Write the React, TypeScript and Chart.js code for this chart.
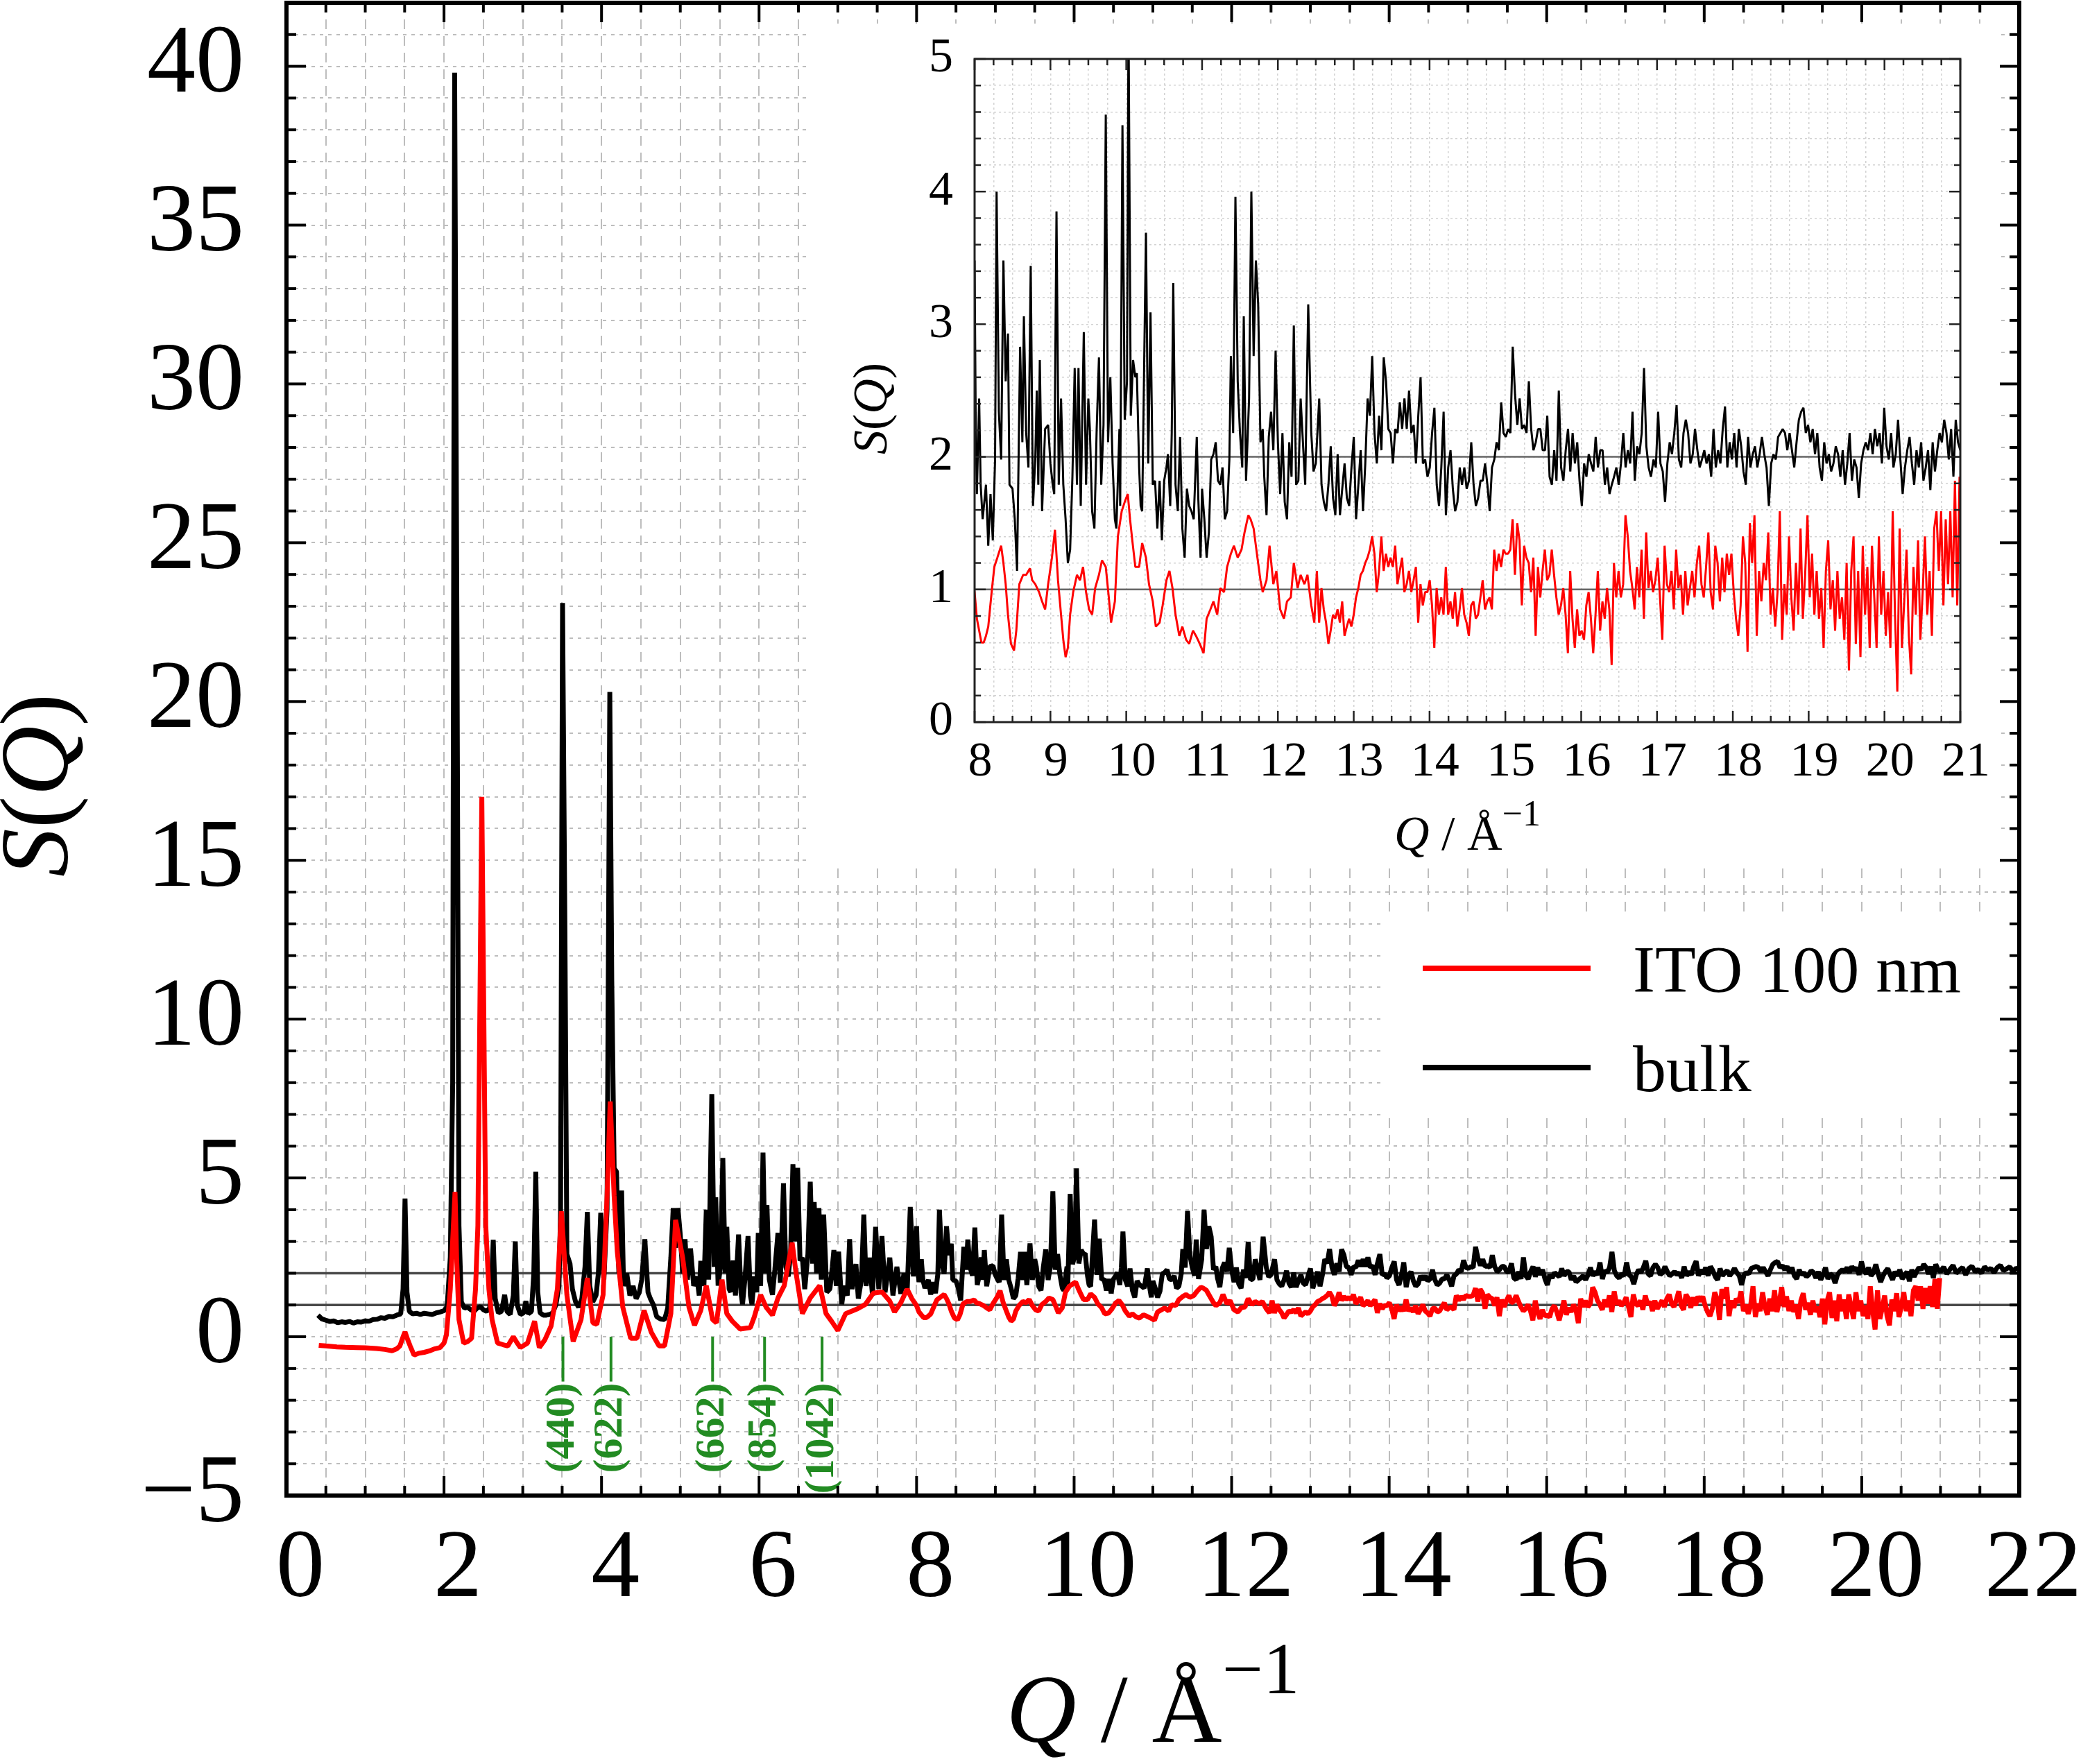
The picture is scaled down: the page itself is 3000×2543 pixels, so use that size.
import { useEffect, useRef } from "react";
import { Chart, registerables } from "chart.js";

Chart.register(...registerables);

// ---------------- data ----------------
// bulk, low Q (peaked part), [Q, S(Q)]
const bulkLowQ: [number, number][] = [
  [0.40,0.68],[0.45,0.56],[0.50,0.52],[0.55,0.48],[0.60,0.50],[0.65,0.44],[0.70,0.47],[0.75,0.45],[0.80,0.48],[0.85,0.43],
  [0.90,0.47],[0.95,0.46],[1.00,0.50],[1.05,0.49],[1.10,0.54],[1.15,0.55],[1.20,0.60],[1.25,0.58],[1.30,0.64],[1.35,0.63],
  [1.40,0.68],[1.45,0.72],[1.48,1.50],[1.505,4.35],[1.53,1.40],[1.56,0.80],[1.60,0.72],[1.65,0.74],[1.70,0.70],[1.75,0.74],
  [1.80,0.72],[1.85,0.70],[1.90,0.75],[1.95,0.78],[2.00,0.82],[2.04,0.95],[2.08,2.50],[2.11,8.00],[2.135,39.8],[2.165,21.8],
  [2.19,3.50],[2.22,1.10],[2.26,0.90],[2.30,0.93],[2.34,0.85],[2.38,0.80],[2.42,0.90],[2.46,0.95],[2.50,0.85],[2.54,0.80],
  [2.58,0.90],[2.60,1.50],[2.625,3.05],[2.65,1.20],[2.69,0.75],[2.73,0.80],[2.77,1.32],[2.80,0.80],[2.84,0.70],[2.88,1.30],
  [2.905,3.00],[2.93,1.00],[2.97,0.70],[3.01,0.75],[3.04,1.12],[3.07,0.72],[3.11,0.80],[3.14,2.00],[3.165,5.20],[3.19,1.40],
  [3.22,0.75],[3.26,0.68],[3.30,0.68],[3.34,0.70],[3.38,0.75],[3.42,1.00],[3.46,1.60],[3.48,4.00],[3.505,23.1],[3.535,12.8],
  [3.56,2.60],[3.60,2.30],[3.63,1.50],[3.67,1.10],[3.71,0.93],[3.75,1.20],[3.79,2.20],[3.82,3.93],[3.85,1.60],[3.89,1.10],
  [3.93,1.30],[3.96,2.00],[3.99,3.90],[4.03,1.80],[4.07,4.00],[4.105,20.3],[4.13,11.2],[4.16,5.30],[4.19,5.20],[4.22,2.00],
  [4.255,4.60],[4.28,1.60],[4.32,2.00],[4.36,1.30],[4.40,1.60],[4.44,1.20],[4.48,1.40],[4.51,1.80],[4.55,3.07],[4.59,1.40],
  [4.62,1.20],[4.66,1.00],[4.70,0.63],[4.75,0.56],[4.80,0.54],[4.84,0.90],[4.88,2.49],[4.91,4.05],[4.94,2.80],[4.97,4.05],
  [5.00,3.20],[5.03,2.00],[5.06,3.07],[5.09,1.80],[5.13,2.78],[5.17,1.60],[5.21,1.90],[5.24,1.30],[5.26,2.39],[5.30,1.60],
  [5.33,4.00],[5.36,1.80],[5.40,7.64],[5.43,2.20],[5.45,4.39],[5.48,1.61],[5.51,2.20],[5.54,5.63],[5.57,2.00],[5.59,3.46],
  [5.62,1.50],[5.64,1.41],[5.67,2.40],[5.70,1.30],[5.74,3.22],[5.77,1.40],[5.79,1.02],[5.82,1.80],[5.86,3.17],[5.89,1.30],
  [5.91,1.02],[5.94,1.90],[5.97,1.40],[5.99,3.27],[6.02,1.60],[6.05,5.80],[6.08,2.00],[6.10,4.15],[6.13,1.80],[6.17,1.32],
  [6.20,2.10],[6.24,3.27],[6.27,1.70],[6.31,4.83],[6.34,2.20],[6.37,1.90],[6.40,2.60],[6.43,5.43],[6.46,3.00],[6.49,5.32],
  [6.52,2.40],[6.55,2.49],[6.58,1.50],[6.62,2.60],[6.65,4.88],[6.68,2.30],[6.70,4.24],[6.73,2.00],[6.76,4.05],[6.79,1.80],
  [6.82,3.85],[6.86,1.40],[6.90,1.51],[6.93,2.20],[6.95,2.73],[6.98,1.60],[7.01,2.68],[7.05,1.02],[7.08,1.60],[7.12,1.30],
  [7.15,3.07],[7.18,1.50],[7.23,2.29],[7.26,1.20],[7.30,1.80],[7.33,3.85],[7.36,1.60],[7.40,2.49],[7.44,1.30],[7.48,3.46],
  [7.52,1.50],[7.56,3.17],[7.60,1.40],[7.66,2.49],[7.70,1.30],[7.75,2.20],[7.80,1.35],[7.84,2.00],[7.88,1.40],[7.92,4.09],
  [7.96,1.90],
];

// bulk, 8 - 12.5
const bulkMidQ: [number, number][] = [
  [8.00,3.48],[8.015,2.21],[8.03,1.72],[8.06,2.44],[8.08,1.79],[8.106,1.53],[8.15,1.79],[8.18,1.33],[8.21,1.72],[8.24,1.37],
  [8.27,1.98],[8.29,4.00],[8.32,2.34],[8.35,1.98],[8.38,3.48],[8.41,2.57],[8.44,2.93],[8.46,1.79],[8.50,1.76],[8.53,1.53],
  [8.56,1.14],[8.60,2.83],[8.63,2.11],[8.65,3.06],[8.68,2.18],[8.71,1.92],[8.74,3.44],[8.77,1.63],[8.80,1.98],[8.82,2.50],
  [8.84,1.79],[8.86,2.73],[8.89,1.59],[8.93,2.21],[8.97,2.24],[9.00,1.95],[9.03,1.79],[9.05,1.72],[9.08,3.85],[9.11,1.79],
  [9.14,2.44],[9.17,1.79],[9.20,1.53],[9.23,1.20],[9.26,1.30],[9.29,1.85],[9.32,2.67],[9.35,1.79],[9.37,2.67],[9.40,1.63],
  [9.44,2.94],[9.47,1.79],[9.50,2.44],[9.52,2.21],[9.55,1.59],[9.58,1.46],[9.61,2.21],[9.64,2.75],[9.67,1.79],[9.70,2.24],
  [9.73,4.58],[9.76,2.11],[9.79,2.60],[9.82,1.95],[9.85,1.53],[9.87,1.46],[9.91,2.21],[9.92,1.63],[9.95,4.50],[9.98,2.28],
  [10.01,2.57],[10.03,5.30],[10.06,2.31],[10.09,2.73],[10.12,2.60],[10.14,2.63],[10.17,1.92],[10.19,1.63],[10.21,1.59],[10.26,3.69],
  [10.29,1.95],[10.32,3.09],[10.35,1.79],[10.38,1.82],[10.41,1.46],[10.44,1.82],[10.47,1.37],[10.50,1.82],[10.53,1.92],[10.55,2.02],
  [10.58,1.63],[10.60,2.18],[10.62,3.31],[10.65,1.79],[10.68,1.59],[10.71,2.15],[10.74,1.46],[10.77,1.24],[10.80,1.76],[10.83,1.63],
  [10.86,1.59],[10.89,1.53],[10.93,2.15],[10.95,1.69],[10.98,1.24],[11.00,1.76],[11.03,1.53],[11.06,1.24],[11.09,1.43],[11.12,1.98],
  [11.15,2.02],[11.18,2.11],[11.21,1.82],[11.24,1.79],[11.27,1.92],[11.30,1.53],[11.33,1.59],[11.36,1.98],[11.38,2.76],[11.41,2.18],
  [11.44,3.96],[11.47,2.57],[11.50,2.18],[11.53,1.92],[11.55,3.06],[11.58,1.82],[11.62,2.44],[11.65,4.00],[11.68,2.76],[11.71,3.48],
  [11.74,3.15],[11.77,2.11],[11.80,2.21],[11.82,1.85],[11.85,1.56],[11.88,2.15],[11.91,2.34],[11.94,2.05],[11.97,2.80],[12.00,2.11],
  [12.03,1.72],[12.06,2.18],[12.09,1.66],[12.12,1.53],[12.15,2.11],[12.18,1.85],[12.21,2.99],[12.24,1.79],[12.27,1.82],[12.30,2.44],
  [12.33,2.11],[12.36,1.79],[12.40,3.15],[12.44,2.18],[12.47,1.89],[12.50,1.95],
];

// bulk, evenly sampled stretches (Q from..to, S values in order)
const bulkHighQ = { from: 12.545, to: 16.92, s: [
  2.44,1.79,1.66,1.59,1.79,2.08,1.69,1.56,2.02,1.56,1.76,1.95,1.69,1.63,1.92,2.15,1.53,1.79,2.05,1.59,
  1.95,2.44,2.31,2.76,2.18,1.95,2.31,2.05,2.75,2.57,2.21,2.18,1.95,2.21,2.18,2.41,2.21,2.44,2.21,2.50,
  2.18,2.24,1.95,2.31,2.60,1.95,1.98,1.85,1.92,2.18,2.37,1.79,1.63,1.92,2.34,1.56,1.92,2.05,1.76,1.59,
  1.66,1.92,1.79,1.92,1.76,1.82,2.11,1.79,1.63,1.69,1.82,1.82,1.95,1.79,1.59,1.92,1.98,2.11,2.05,2.41,
  2.18,2.15,2.21,2.18,2.83,2.47,2.24,2.44,2.21,2.24,2.18,2.57,2.21,2.05,2.11,2.21,2.21,2.05,2.05,2.31,
  1.85,1.79,2.05,1.82,2.50,1.92,1.82,2.05,2.21,1.89,2.18,1.95,2.11,1.82,1.63,1.95,1.85,2.02,1.95,1.89,
  2.15,1.92,2.05,2.05,1.79,1.92,1.72,1.79,1.85,1.92,1.79,1.95,2.18,1.92,2.05,1.95,2.34,1.82,2.08,2.02,
  2.18,2.67,2.08,1.92,1.85,
] };
const bulkEdgeQ = { from: 16.954, to: 20.97, s: [
  1.98,1.92,2.34,1.95,1.89,1.66,1.95,2.11,2.02,2.18,2.39,1.98,1.92,2.18,2.28,2.18,1.95,2.02,2.21,2.05,
  1.92,1.98,2.05,1.95,2.02,1.85,2.21,1.92,2.05,1.95,2.21,2.38,1.92,2.11,1.98,2.18,1.92,2.21,2.08,1.89,
  1.79,2.15,1.92,2.02,2.08,1.92,2.02,2.15,2.02,1.92,1.63,1.95,2.02,1.98,2.15,2.18,2.21,2.18,2.05,2.18,
  2.05,1.92,2.11,2.28,2.34,2.37,2.18,2.24,2.11,2.21,2.02,2.18,1.92,1.82,2.11,1.95,2.02,1.89,1.95,2.08,
  2.02,1.85,2.05,1.79,1.95,2.18,1.82,1.98,1.92,1.69,1.95,2.05,2.11,2.05,2.18,2.02,2.21,2.08,2.18,1.95,
  2.37,2.08,1.98,2.18,1.92,2.02,2.28,1.98,1.72,1.92,2.05,2.15,1.95,1.79,2.05,1.92,2.11,1.82,1.92,2.05,
  1.75,2.11,1.89,2.05,2.18,2.11,2.28,2.18,1.98,2.21,1.85,2.28,2.11,
] };
const bulkTailQ = { from: 21.0, to: 22.0, s: [
  2.05,2.20,1.98,2.12,2.25,2.00,2.10,2.18,1.95,2.15,2.22,2.05,2.12,2.00,2.20,2.10,2.15,2.02,2.18,2.25,
  2.08,2.14,2.20,2.05,2.16,2.12,
] };

// ITO 100 nm, low Q
const itoLowQ: [number, number][] = [
  [0.41,-0.27],[0.50,-0.29],[0.64,-0.32],[0.75,-0.33],[0.89,-0.34],[1.00,-0.35],[1.14,-0.37],[1.25,-0.40],[1.34,-0.44],[1.40,-0.38],
  [1.44,-0.29],[1.48,0.00],[1.505,0.15],[1.54,-0.10],[1.57,-0.29],[1.62,-0.58],[1.68,-0.52],[1.75,-0.49],[1.81,-0.45],[1.87,-0.39],
  [1.95,-0.34],[2.00,-0.20],[2.03,0.05],[2.08,1.50],[2.14,4.56],[2.16,2.50],[2.19,0.54],[2.25,-0.20],[2.30,-0.15],[2.35,-0.05],
  [2.40,1.50],[2.43,3.50],[2.48,17.0],[2.53,3.50],[2.57,1.50],[2.61,0.54],[2.68,-0.20],[2.75,-0.25],[2.81,-0.29],[2.88,0.00],
  [2.93,-0.20],[2.97,-0.34],[3.06,-0.20],[3.15,0.49],[3.21,-0.34],[3.28,-0.10],[3.36,0.34],[3.44,1.51],[3.49,3.95],[3.56,1.32],
  [3.64,-0.15],[3.74,0.54],[3.82,1.85],[3.89,0.44],[3.94,0.39],[4.02,1.32],[4.07,4.44],[4.11,7.41],[4.16,4.44],[4.20,2.68],
  [4.27,0.93],[4.37,-0.05],[4.45,-0.05],[4.54,0.83],[4.63,0.15],[4.73,-0.29],[4.80,-0.29],[4.88,0.73],[4.94,3.68],[5.03,2.49],
  [5.11,0.93],[5.18,0.36],[5.26,0.83],[5.33,1.61],[5.41,0.54],[5.46,0.44],[5.53,1.80],[5.59,0.73],[5.66,0.49],[5.76,0.24],
  [5.89,0.29],[5.94,0.63],[6.02,1.32],[6.09,0.93],[6.17,0.68],[6.24,1.22],[6.32,1.61],[6.42,2.96],[6.47,2.00],[6.55,0.73],
  [6.65,1.22],[6.77,1.61],[6.85,0.73],[6.92,0.49],[7.00,0.20],[7.10,0.73],[7.25,0.88],[7.35,1.02],[7.45,1.37],[7.56,1.41],
  [7.66,1.12],[7.72,0.78],[7.80,1.07],[7.88,1.50],[7.94,1.20],
];

// ITO 100 nm, 8 - 12.5
const itoMidQ: [number, number][] = [
  [8.00,0.98],[8.03,0.78],[8.06,0.69],[8.09,0.60],[8.12,0.60],[8.15,0.65],[8.18,0.72],[8.23,1.01],[8.26,1.17],[8.30,1.24],
  [8.35,1.33],[8.38,1.20],[8.41,1.04],[8.44,0.81],[8.48,0.59],[8.52,0.54],[8.55,0.69],[8.59,1.04],[8.64,1.11],[8.68,1.11],
  [8.73,1.16],[8.76,1.07],[8.80,1.04],[8.85,0.98],[8.89,0.91],[8.93,0.85],[8.97,1.04],[9.02,1.24],[9.06,1.45],[9.10,1.07],
  [9.14,0.81],[9.17,0.62],[9.20,0.49],[9.23,0.56],[9.26,0.81],[9.30,0.98],[9.35,1.11],[9.39,1.07],[9.43,1.17],[9.47,0.98],
  [9.51,0.85],[9.55,0.81],[9.59,1.01],[9.64,1.11],[9.68,1.22],[9.73,1.17],[9.77,0.94],[9.80,0.75],[9.85,0.91],[9.89,1.40],
  [9.94,1.59],[9.98,1.66],[10.02,1.72],[10.05,1.53],[10.08,1.37],[10.12,1.17],[10.17,1.17],[10.21,1.35],[10.26,1.24],[10.30,1.04],
  [10.35,0.91],[10.39,0.72],[10.44,0.75],[10.48,0.88],[10.53,1.07],[10.57,1.14],[10.61,1.01],[10.65,0.81],[10.70,0.65],[10.74,0.72],
  [10.79,0.62],[10.83,0.59],[10.88,0.69],[10.92,0.65],[10.97,0.59],[11.02,0.52],[11.06,0.78],[11.11,0.85],[11.15,0.91],[11.20,0.81],
  [11.24,1.01],[11.29,0.98],[11.33,1.17],[11.38,1.27],[11.42,1.33],[11.47,1.24],[11.52,1.30],[11.56,1.43],[11.61,1.56],[11.64,1.53],
  [11.68,1.46],[11.73,1.24],[11.77,1.07],[11.80,0.98],[11.85,1.07],[11.89,1.33],[11.94,1.04],[11.98,1.14],[12.03,0.85],[12.08,0.78],
  [12.12,0.91],[12.17,0.94],[12.21,1.20],[12.26,1.01],[12.30,1.11],[12.35,1.04],[12.39,1.11],[12.44,0.88],[12.48,0.75],
];

const itoHighQ = { from: 12.514, to: 16.918, s: [
  1.14,0.75,1.01,0.85,0.75,0.59,0.69,0.81,0.78,0.85,0.75,0.91,0.65,0.72,0.78,0.72,0.81,0.94,1.01,1.11,
  1.14,1.20,1.24,1.30,1.40,1.27,0.98,1.14,1.40,1.14,1.27,1.17,1.24,1.17,1.33,1.04,1.14,1.24,0.98,1.04,
  1.14,0.98,1.07,1.17,0.75,1.04,0.88,0.98,0.98,1.07,0.88,0.56,1.01,0.81,0.94,0.81,1.17,0.81,0.91,0.78,
  0.98,0.72,0.85,1.01,0.81,0.75,0.65,0.88,0.91,0.78,0.81,0.94,1.07,0.85,0.91,0.94,0.85,1.30,1.14,1.27,
  1.17,1.30,1.27,1.27,1.30,1.53,1.11,1.50,1.37,0.88,1.33,1.24,1.20,0.98,1.24,0.65,1.17,0.94,1.14,1.30,
  1.07,1.11,1.30,1.11,0.94,0.81,0.88,1.01,0.81,0.52,1.14,0.78,0.56,0.85,0.65,0.69,0.62,0.88,0.98,0.78,
  0.52,0.81,1.14,0.69,0.91,0.78,1.01,0.85,0.43,1.20,0.94,1.14,0.94,1.04,1.56,1.40,1.14,1.01,0.85,1.17,
  0.94,1.30,0.78,1.43,1.01,1.14,
] };
const itoEdgeQ = { from: 16.948, to: 20.99, s: [
  0.98,1.07,1.24,0.94,0.62,1.33,1.04,0.98,1.14,0.85,1.30,1.01,1.11,0.81,1.14,0.88,1.01,1.14,0.94,1.20,
  1.33,1.04,0.94,1.17,1.43,0.98,0.85,1.33,1.20,0.91,1.24,0.98,1.27,1.11,1.27,0.98,0.78,0.65,0.88,1.40,
  1.20,0.53,1.50,1.20,1.56,0.65,1.14,0.91,1.20,1.07,1.43,0.81,1.01,0.72,0.98,1.59,0.62,1.04,0.81,1.40,
  0.94,0.69,1.20,0.81,1.46,0.78,1.11,1.56,0.94,1.27,0.81,1.14,0.78,1.01,0.56,1.14,1.37,0.85,1.07,0.69,
  1.14,0.78,0.94,0.62,1.20,0.39,1.14,1.40,0.59,1.14,0.49,1.33,0.81,1.17,0.56,1.33,0.94,0.56,1.40,0.81,
  1.14,0.65,0.98,0.56,1.59,0.81,0.23,1.46,0.56,0.91,1.30,0.65,0.36,1.17,0.81,1.37,0.62,0.98,1.40,0.81,
  1.14,0.65,1.46,1.59,1.14,1.59,0.88,1.53,1.04,1.59,0.94,1.82,0.88,1.85,
] };

// axis tick labels and guides
const mainXTicks = [0, 2, 4, 6, 8, 10, 12, 14, 16, 18, 20, 22];
const mainYTicks = [-5, 0, 5, 10, 15, 20, 25, 30, 35, 40];
const insetXTicks = [8, 9, 10, 11, 12, 13, 14, 15, 16, 17, 18, 19, 20, 21];
const insetYTicks = [0, 1, 2, 3, 4, 5];
const refLevels = [1, 2];
const reflectionLabels = ["(440)", "(622)", "(662)", "(854)", "(1042)"];
const reflectionQ = [3.51, 4.12, 5.41, 6.07, 6.8];
const reflectionBottom = -1.41;

// ---------------- layout ----------------
const W = 3000;
const H = 2543;
const MAIN = { left: 413, right: 2911, top: 4, bottom: 2156 };
const INSET_BOX = { left: 1165, top: 34, width: 1715, height: 1209 };
const INSET = { left: 240, right: 1661, top: 51, bottom: 1007 };
const SERIF = '"Liberation Serif", "Times New Roman", serif';
const GREEN = "#228b22";

type Seg = { from: number; to: number; s: number[] };
const fromPairs = (p: [number, number][]) => p.map(([x, y]) => ({ x, y }));
const fromSeg = (seg: Seg) => {
  const dq = (seg.to - seg.from) / (seg.s.length - 1);
  return seg.s.map((y, i) => ({ x: seg.from + i * dq, y }));
};

const bulkPoints = [
  ...fromPairs(bulkLowQ), ...fromPairs(bulkMidQ),
  ...fromSeg(bulkHighQ), ...fromSeg(bulkEdgeQ), ...fromSeg(bulkTailQ),
];
const itoPoints = [
  ...fromPairs(itoLowQ), ...fromPairs(itoMidQ),
  ...fromSeg(itoHighQ), ...fromSeg(itoEdgeQ),
];

const isMultiple = (v: number, m: number) => Math.abs(v / m - Math.round(v / m)) < 1e-6;
const fmt = (v: number) => (v < 0 ? "\u2212" + Math.abs(v) : String(v));

type Run = { text: string; font: string; dy?: number };
function drawRuns(ctx: CanvasRenderingContext2D, runs: Run[], cx: number, base: number) {
  const widths = runs.map((r) => {
    ctx.font = r.font;
    return ctx.measureText(r.text).width;
  });
  let x = cx - widths.reduce((a, b) => a + b, 0) / 2;
  ctx.textAlign = "left";
  ctx.textBaseline = "alphabetic";
  runs.forEach((r, i) => {
    ctx.font = r.font;
    ctx.fillText(r.text, x, base + (r.dy || 0));
    x += widths[i];
  });
}

function line(ctx: CanvasRenderingContext2D, x1: number, y1: number, x2: number, y2: number) {
  ctx.beginPath();
  ctx.moveTo(x1, y1);
  ctx.lineTo(x2, y2);
  ctx.stroke();
}

// frame + inward ticks on all four sides
function drawFrame(chart: any, o: any) {
  const { ctx, chartArea: a, scales } = chart;
  const xs = scales.x;
  const ys = scales.y;
  ctx.save();
  ctx.strokeStyle = o.color;
  ctx.lineWidth = o.tickWidth;
  xs.ticks.forEach((t: any) => {
    const px = xs.getPixelForValue(t.value);
    const len = isMultiple(t.value, o.xMajor) ? o.major : o.minor;
    line(ctx, px, a.bottom, px, a.bottom - len);
    line(ctx, px, a.top, px, a.top + len);
  });
  ys.ticks.forEach((t: any) => {
    const py = ys.getPixelForValue(t.value);
    const len = isMultiple(t.value, o.yMajor) ? o.major : o.minor;
    line(ctx, a.left, py, a.left + len, py);
    line(ctx, a.right, py, a.right - len, py);
  });
  ctx.lineWidth = o.frameWidth;
  ctx.strokeRect(a.left, a.top, a.right - a.left, a.bottom - a.top);
  ctx.restore();
}

function drawAxisText(chart: any, o: any) {
  const { ctx, chartArea: a, scales } = chart;
  const xs = scales.x;
  const ys = scales.y;
  ctx.save();
  ctx.fillStyle = "#000";
  ctx.font = `${o.tickSize}px ${SERIF}`;
  ctx.textAlign = "center";
  ctx.textBaseline = "alphabetic";
  o.xTicks.forEach((v: number) => ctx.fillText(fmt(v), xs.getPixelForValue(v) + o.xShift, o.xBase));
  ctx.textAlign = "right";
  ctx.textBaseline = "middle";
  o.yTicks.forEach((v: number) => ctx.fillText(fmt(v), o.yRight, ys.getPixelForValue(v)));

  const it = `italic ${o.titleSize}px ${SERIF}`;
  const up = `${o.titleSize}px ${SERIF}`;
  drawRuns(ctx, [
    { text: "Q", font: it },
    { text: " / \u00C5", font: up },
    { text: "\u22121", font: `${o.supSize}px ${SERIF}`, dy: -o.supRise },
  ], (a.left + a.right) / 2, o.xTitleBase);

  ctx.save();
  ctx.translate(o.yTitleX, o.yTitleY);
  ctx.rotate(-Math.PI / 2);
  drawRuns(ctx, [
    { text: "S", font: it },
    { text: "(", font: up },
    { text: "Q", font: it },
    { text: ")", font: up },
  ], 0, 0);
  ctx.restore();
  ctx.restore();
}

const mainDecor = {
  id: "mainDecor",
  beforeDatasetsDraw(chart: any) {
    const { ctx, chartArea: a, scales } = chart;
    ctx.save();
    // legend background hides the grid
    ctx.fillStyle = "#fff";
    ctx.fillRect(1991, 1322, a.right - 1991, 1610 - 1322);
    ctx.strokeStyle = "#4a4a4a";
    ctx.lineWidth = 3.5;
    refLevels.forEach((v) => {
      const py = scales.y.getPixelForValue(v);
      line(ctx, a.left, py, a.right, py);
    });
    ctx.restore();
  },
  afterDatasetsDraw(chart: any) {
    const { ctx, scales } = chart;
    const xs = scales.x;
    const ys = scales.y;
    ctx.save();
    // Bragg reflections of ITO
    ctx.strokeStyle = GREEN;
    ctx.fillStyle = GREEN;
    ctx.lineWidth = 4;
    ctx.font = `bold 60px ${SERIF}`;
    reflectionQ.forEach((q, i) => {
      const px = xs.getPixelForValue(q);
      const y0 = ys.getPixelForValue(0);
      const y1 = ys.getPixelForValue(reflectionBottom);
      line(ctx, px, y0, px, y1);
      ctx.save();
      ctx.translate(px, y1 + 2);
      ctx.rotate(-Math.PI / 2);
      ctx.textAlign = "right";
      ctx.textBaseline = "middle";
      ctx.fillText(reflectionLabels[i], 0, 0);
      ctx.restore();
    });

    // legend
    const rows = [
      { lineY: 1396, base: 1430 },
      { lineY: 1539, base: 1573 },
    ];
    ctx.font = `96px ${SERIF}`;
    ctx.textAlign = "left";
    ctx.textBaseline = "alphabetic";
    chart.data.datasets.forEach((ds: any, i: number) => {
      const r = rows[i];
      ctx.strokeStyle = ds.borderColor;
      ctx.lineWidth = 8;
      line(ctx, 2051, r.lineY, 2293, r.lineY);
      ctx.fillStyle = "#000";
      ctx.fillText(ds.label, 2354, r.base);
    });
    ctx.restore();

    drawFrame(chart, { color: "#000", tickWidth: 4, frameWidth: 6, major: 28, minor: 14, xMajor: 2, yMajor: 5 });
    drawAxisText(chart, {
      tickSize: 140, xTicks: mainXTicks, yTicks: mainYTicks, xShift: 20, xBase: 2301, yRight: 352,
      titleSize: 140, supSize: 105, supRise: 70, xTitleBase: 2511, yTitleX: 97, yTitleY: 1132,
    });
  },
};

const insetDecor = {
  id: "insetDecor",
  beforeDatasetsDraw(chart: any) {
    const { ctx, chartArea: a, scales } = chart;
    ctx.save();
    ctx.strokeStyle = "#666";
    ctx.lineWidth = 2.5;
    refLevels.forEach((v) => {
      const py = scales.y.getPixelForValue(v);
      line(ctx, a.left, py, a.right, py);
    });
    ctx.restore();
  },
  afterDatasetsDraw(chart: any) {
    drawFrame(chart, { color: "#222", tickWidth: 2.5, frameWidth: 3, major: 16, minor: 9, xMajor: 1, yMajor: 1 });
    drawAxisText(chart, {
      tickSize: 70, xTicks: insetXTicks, yTicks: insetYTicks, xShift: 8, xBase: 1084, yRight: 209,
      titleSize: 70, supSize: 52, supRise: 35, xTitleBase: 1191, yTitleX: 113, yTitleY: 555,
    });
  },
};

function makeChart(canvas: HTMLCanvasElement, cfg: any) {
  const { width, height, area, x, y, lw, grid, plugin } = cfg;
  return new Chart(canvas, {
    type: "line",
    data: {
      datasets: [
        { label: "ITO 100 nm", data: itoPoints, borderColor: "#ff0000", borderWidth: lw, pointRadius: 0, pointHoverRadius: 0, borderJoinStyle: "bevel", tension: 0 },
        { label: "bulk", data: bulkPoints, borderColor: "#000000", borderWidth: lw, pointRadius: 0, pointHoverRadius: 0, borderJoinStyle: "bevel", tension: 0 },
      ],
    },
    options: {
      animation: false,
      responsive: false,
      devicePixelRatio: 1,
      events: [],
      layout: { padding: { left: 0, top: area.top, right: width - area.right, bottom: 0 } },
      plugins: { legend: { display: false }, tooltip: { enabled: false } },
      scales: {
        x: {
          type: "linear", min: x.min, max: x.max,
          afterFit: (s: any) => { s.height = height - area.bottom; },
          ticks: { display: false, stepSize: x.step, maxTicksLimit: 1000 },
          grid: { color: grid.color, lineWidth: grid.width, drawTicks: false },
          border: { display: false, dash: grid.xDash },
        },
        y: {
          type: "linear", min: y.min, max: y.max,
          afterFit: (s: any) => { s.width = area.left; },
          ticks: { display: false, stepSize: y.step, maxTicksLimit: 1000 },
          grid: { color: grid.color, lineWidth: grid.width, drawTicks: false },
          border: { display: false, dash: grid.yDash },
        },
      },
    } as any,
    plugins: [plugin],
  });
}

function MainChart() {
  const canvasRef = useRef<HTMLCanvasElement | null>(null);
  useEffect(() => {
    if (!canvasRef.current) return;
    const chart = makeChart(canvasRef.current, {
      width: W, height: H, area: MAIN, lw: 7,
      x: { min: 0, max: 22, step: 0.5 },
      y: { min: -5, max: 42, step: 1 },
      grid: { color: "#bdbdbd", width: 2, xDash: [14, 10], yDash: [5, 7] },
      plugin: mainDecor,
    });
    return () => chart.destroy();
  }, []);
  return (
    <canvas ref={canvasRef} width={W} height={H}
      style={{ position: "absolute", left: 0, top: 0, width: W, height: H }} />
  );
}

function InsetChart() {
  const canvasRef = useRef<HTMLCanvasElement | null>(null);
  useEffect(() => {
    if (!canvasRef.current) return;
    const chart = makeChart(canvasRef.current, {
      width: INSET_BOX.width, height: INSET_BOX.height, area: INSET, lw: 3,
      x: { min: 8, max: 21, step: 0.25 },
      y: { min: 0, max: 5, step: 0.2 },
      grid: { color: "#d2d2d2", width: 1.5, xDash: [3, 4], yDash: [3, 4] },
      plugin: insetDecor,
    });
    return () => chart.destroy();
  }, []);
  return (
    <canvas ref={canvasRef} width={INSET_BOX.width} height={INSET_BOX.height}
      style={{
        position: "absolute", left: INSET_BOX.left, top: INSET_BOX.top,
        width: INSET_BOX.width, height: INSET_BOX.height, background: "#fff",
      }} />
  );
}

export default function App() {
  return (
    <div style={{ position: "absolute", left: 0, top: 0, width: W, height: H, background: "#fff", overflow: "hidden" }}>
      <MainChart />
      <InsetChart />
    </div>
  );
}
